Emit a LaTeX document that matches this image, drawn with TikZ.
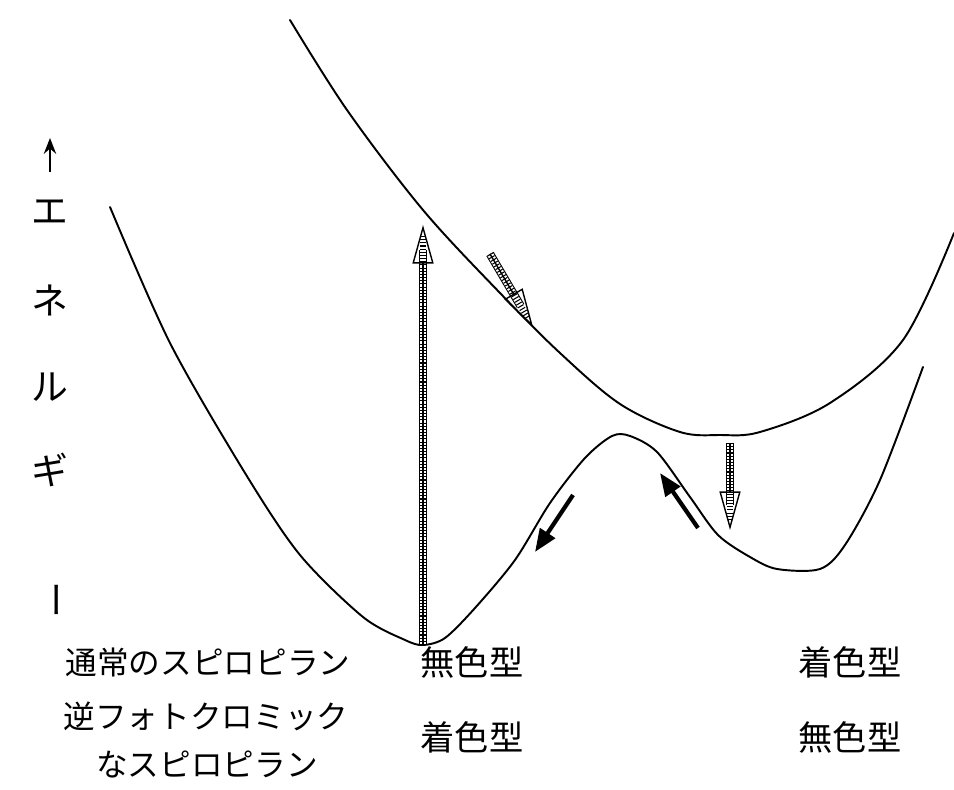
\documentclass[tikz,border=0pt]{standalone}
\usepackage{fontspec}
\newfontfamily\jp{Noto Sans CJK JP}
\usetikzlibrary{arrows.meta}
\begin{document}
\begin{tikzpicture}[x=0.02cm,y=-0.02cm,
  curve/.style={line width=1.1pt, line join=round, line cap=round},
  axislbl/.style={font=\jp\fontsize{21}{24}\selectfont, inner sep=0pt},
  rowlbl/.style={font=\jp\fontsize{18}{20}\selectfont, inner sep=0pt},
  typlbl/.style={font=\jp\fontsize{19.5}{22}\selectfont, inner sep=0pt},
  hshaft/.style={line width=0.6pt, double distance=3.6pt},
  hticks/.style={line width=3.6pt, dash pattern=on 0.6pt off 1.2pt},
  hhead/.style={line width=0.8pt, -{Triangle[open, length=22pt, width=12pt]}},
  solidarrow/.style={line width=2.4pt, -{Triangle[length=13pt, width=10pt]}}
]
\useasboundingbox (0,0) rectangle (954,790);

% upper potential curve
\draw[curve] plot[smooth, tension=0.55] coordinates {(290,20) (347,110) (423,210) (500,293) (560,353) (620,404) (680,432) (720,435) (760,432) (830,403) (903,340) (954,233)};

% lower potential curve
\draw[curve] plot[smooth, tension=0.5] coordinates {(110,207) (170,343) (245,473) (300,555) (363,617) (405,640) (423,645) (445,638) (475,608) (515,560) (550,503) (585,458) (612,436) (630,436) (657,452) (690,497) (718,535) (750,557) (777,569) (820,569) (845,545) (880,480) (923,367)};

% named coordinates for arrows
\coordinate (upT) at (423,645);
\coordinate (upH) at (423,225);
\coordinate (slT) at (490,254);
\coordinate (slH) at (533,327);
\coordinate (dnT) at (730,443);
\coordinate (dnH) at (730,530);
\coordinate (b1T) at (573,495);
\coordinate (b1H) at (535,552);
\coordinate (b2T) at (698,528);
\coordinate (b2H) at (660,473);

% hatched excitation arrow
\draw[hshaft, shorten >=14pt] (upT) -- (upH);
\draw[hticks, shorten >=6pt] (upT) -- (upH);
\draw[hhead] (upT) -- (upH);

% hatched arrow along upper curve
\draw[hshaft, shorten >=14pt] (slT) -- (slH);
\draw[hticks, shorten >=6pt] (slT) -- (slH);
\draw[hhead] (slT) -- (slH);

% hatched downward arrow
\draw[hshaft, shorten >=14pt] (dnT) -- (dnH);
\draw[hticks, shorten >=6pt] (dnT) -- (dnH);
\draw[hhead] (dnT) -- (dnH);

% solid thermal arrows
\draw[solidarrow] (b1T) -- (b1H);
\draw[solidarrow] (b2T) -- (b2H);

% energy axis label
\coordinate (axT) at (50,172);
\coordinate (axH) at (50,138);
\draw[line width=1.2pt, -{Stealth[length=9pt, width=7pt]}] (axT) -- (axH);
\node[axislbl] (e1) at (50,212) {エ};
\node[axislbl] (e2) at (50,300) {ネ};
\node[axislbl] (e3) at (50,387) {ル};
\node[axislbl] (e4) at (50,470) {ギ};
\node[axislbl, rotate=-90] (e5) at (50,600) {ー};

% bottom labels
\node[rowlbl] (r1) at (208,662) {通常のスピロピラン};
\node[typlbl] (r1a) at (472,662) {無色型};
\node[typlbl] (r1b) at (850,662) {着色型};
\node[rowlbl] (r2) at (206,716) {逆フォトクロミック};
\node[rowlbl] (r3) at (207,764) {なスピロピラン};
\node[typlbl] (r2a) at (472,737) {着色型};
\node[typlbl] (r2b) at (850,737) {無色型};
\end{tikzpicture}
\end{document}
